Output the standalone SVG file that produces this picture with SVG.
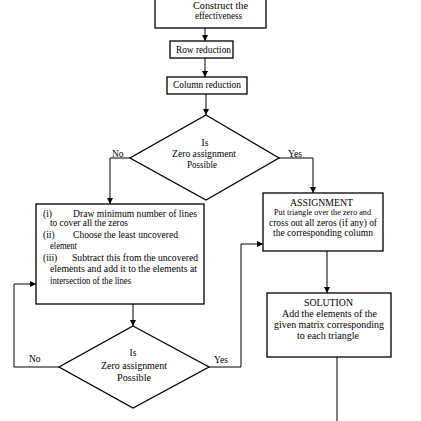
<svg xmlns="http://www.w3.org/2000/svg" width="421" height="421" viewBox="0 0 421 421">
<defs>
<marker id="ah" viewBox="0 0 6 6" refX="6" refY="3" markerWidth="6" markerHeight="6" markerUnits="userSpaceOnUse" orient="auto">
<path d="M0,0 L6,3 L0,6 Z" fill="#000"/>
</marker>
</defs>
<style>
.box{fill:#fff;stroke:#000;stroke-width:1.3}
.ln{fill:none;stroke:#000;stroke-width:1}
.t{font-family:"Liberation Serif","Times New Roman",serif;fill:#000;font-size:9.5px}
.c{text-anchor:middle}
</style>
<rect width="421" height="421" fill="#fff"/>
<g id="connectors">
<path class="ln" d="M205,28 V41" marker-end="url(#ah)"/>
<path class="ln" d="M205,58 V77" marker-end="url(#ah)"/>
<path class="ln" d="M206,94 V115" marker-end="url(#ah)"/>
<path class="ln" d="M130,158 H110 V204" marker-end="url(#ah)"/>
<path class="ln" d="M279,158 H313 V193" marker-end="url(#ah)"/>
<path class="ln" d="M133,304 V326" marker-end="url(#ah)"/>
<path class="ln" d="M59,367 H14 V284 H36" marker-end="url(#ah)"/>
<path class="ln" d="M209,367 H241 V244 H263" marker-end="url(#ah)"/>
<path class="ln" d="M327,251 V293" marker-end="url(#ah)"/>
<path class="ln" d="M337,357 V421"/>
<text class="t" x="112" y="157">No</text>
<text class="t" x="288" y="157">Yes</text>
<text class="t" x="29" y="362">No</text>
<text class="t" x="214" y="363">Yes</text>
</g>
<g id="construct">
<rect class="box" x="155" y="-5" width="111" height="33"/>
<text class="t" x="193" y="9" textLength="55" lengthAdjust="spacingAndGlyphs" style="font-size:10.5px">Construct the</text>
<text class="t" x="195" y="19" textLength="47" lengthAdjust="spacingAndGlyphs" style="font-size:10.5px">effectiveness</text>
</g>
<g id="row">
<rect class="box" x="170" y="41" width="63" height="17"/>
<text class="t" x="176" y="53" textLength="55" lengthAdjust="spacingAndGlyphs">Row reduction</text>
</g>
<g id="column">
<rect class="box" x="167" y="77" width="80" height="17"/>
<text class="t" x="173" y="88" textLength="68" lengthAdjust="spacingAndGlyphs">Column reduction</text>
</g>
<g id="decision1">
<polygon class="box" points="206,115 279,158 206,200 130,158"/>
<text class="t c" x="205" y="146">Is</text>
<text class="t" x="172" y="157" textLength="64" lengthAdjust="spacingAndGlyphs">Zero assignment</text>
<text class="t" x="187" y="168" textLength="30" lengthAdjust="spacingAndGlyphs">Possible</text>
</g>
<g id="reduce">
<rect class="box" x="36" y="204" width="168" height="100"/>
<text class="t" x="43" y="217">(i)</text>
<text class="t" x="73" y="217" textLength="124" lengthAdjust="spacingAndGlyphs">Draw minimum number of lines</text>
<text class="t" x="50" y="226" textLength="78" lengthAdjust="spacingAndGlyphs">to cover all the zeros</text>
<text class="t" x="43" y="238">(ii)</text>
<text class="t" x="73" y="238" textLength="105" lengthAdjust="spacingAndGlyphs">Choose the least uncovered</text>
<text class="t" x="50" y="249" textLength="27" lengthAdjust="spacingAndGlyphs">element</text>
<text class="t" x="43" y="261">(iii)</text>
<text class="t" x="72" y="261" textLength="126" lengthAdjust="spacingAndGlyphs">Subtract this from the uncovered</text>
<text class="t" x="50" y="272" textLength="147" lengthAdjust="spacingAndGlyphs">elements and add it to the elements at</text>
<text class="t" x="50" y="284" textLength="81" lengthAdjust="spacingAndGlyphs">intersection of the lines</text>
</g>
<g id="decision2">
<polygon class="box" points="133,326 209,367 133,408 59,367"/>
<text class="t c" x="133" y="356">Is</text>
<text class="t" x="101" y="369" textLength="66" lengthAdjust="spacingAndGlyphs">Zero assignment</text>
<text class="t" x="117" y="381" textLength="34" lengthAdjust="spacingAndGlyphs">Possible</text>
</g>
<g id="assignment">
<rect class="box" x="263" y="193" width="120" height="58"/>
<text class="t" x="290" y="206" textLength="63" lengthAdjust="spacingAndGlyphs">ASSIGNMENT</text>
<text class="t" x="274" y="215" textLength="97" lengthAdjust="spacingAndGlyphs" style="font-size:8.2px">Put triangle over the zero and</text>
<text class="t" x="269" y="226" textLength="108" lengthAdjust="spacingAndGlyphs">cross out all zeros (if any) of</text>
<text class="t" x="273" y="236" textLength="100" lengthAdjust="spacingAndGlyphs">the corresponding column</text>
</g>
<g id="solution">
<rect class="box" x="267" y="293" width="124" height="64"/>
<text class="t" x="304" y="306" textLength="49" lengthAdjust="spacingAndGlyphs">SOLUTION</text>
<text class="t" x="282" y="317" textLength="95" lengthAdjust="spacingAndGlyphs">Add the elements of the</text>
<text class="t" x="274" y="328" textLength="110" lengthAdjust="spacingAndGlyphs">given matrix corresponding</text>
<text class="t" x="297" y="339" textLength="62" lengthAdjust="spacingAndGlyphs">to each triangle</text>
</g>
</svg>
